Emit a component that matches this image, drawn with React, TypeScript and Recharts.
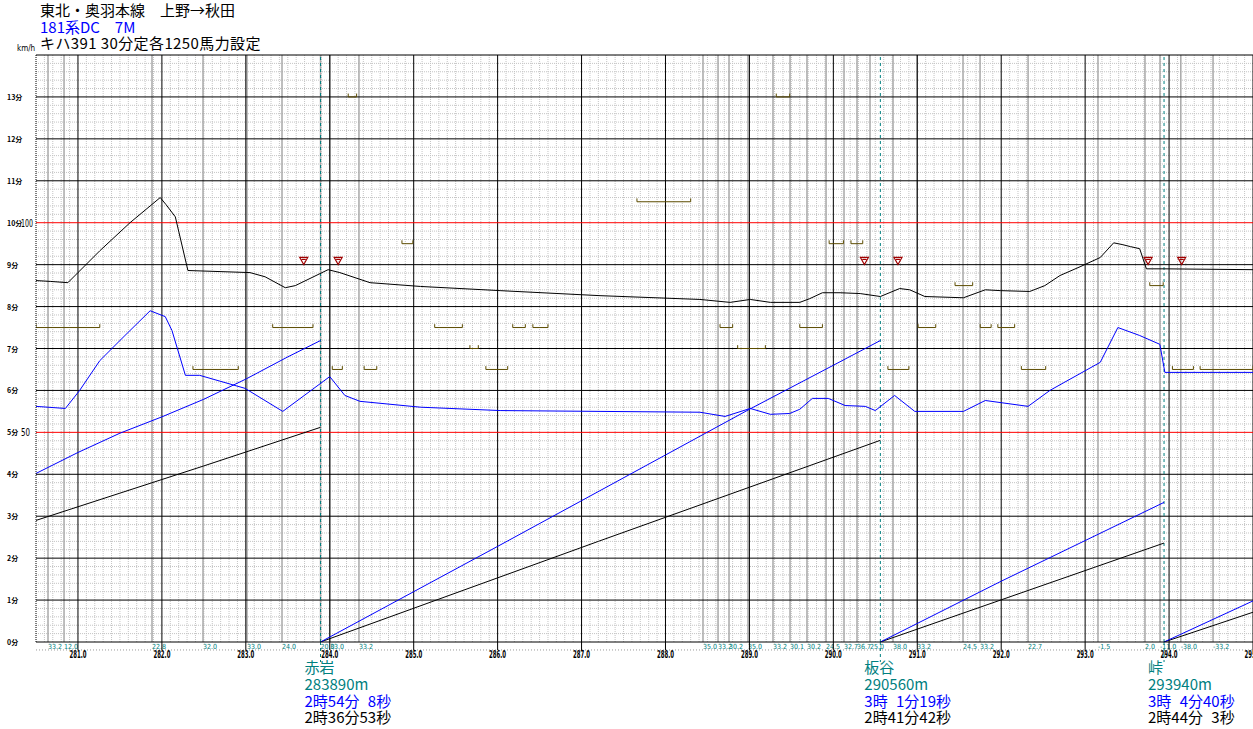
import { ComposedChart, Line, XAxis, YAxis, ReferenceLine, Scatter } from 'recharts';

// km posts and minute scale (1 minute = 10 km/h on the same axis)
const KM_TICKS = [281, 282, 283, 284, 285, 286, 287, 288, 289, 290, 291, 292, 293, 294, 295];
const MIN_TICKS = [0, 1, 2, 3, 4, 5, 6, 7, 8, 9, 10, 11, 12, 13];

// speed curve, black (km, km/h)
const SPD_A_KM = [280.50, 280.67, 280.88, 281.00, 281.26, 281.62, 281.86, 281.98, 282.05, 282.16, 282.31, 283.05, 283.23, 283.47, 283.59, 283.98, 284.12, 284.48, 285.08, 286.03, 287.22, 288.41, 288.77, 289.01, 289.25, 289.60, 289.72, 289.87, 290.08, 290.32, 290.56, 290.79, 290.91, 291.09, 291.55, 291.81, 291.99, 292.34, 292.52, 292.70, 292.94, 293.18, 293.34, 293.44, 293.54, 293.65, 293.73, 293.95, 295.00];
const SPD_A = [86.2, 86.0, 85.7, 88.1, 93.3, 100.0, 104.0, 106.0, 104.3, 101.4, 88.6, 88.1, 87.1, 84.5, 85.0, 88.8, 88.1, 85.7, 84.8, 83.8, 82.6, 81.7, 81.0, 81.7, 81.0, 81.0, 81.9, 83.3, 83.3, 83.1, 82.4, 84.3, 84.0, 82.4, 82.1, 84.0, 83.8, 83.6, 85.0, 87.4, 89.5, 91.7, 95.2, 94.8, 94.3, 93.8, 89.0, 89.0, 88.8];

// speed curve, blue (km, km/h)
const SPD_B_KM = [280.50, 280.85, 281.02, 281.26, 281.56, 281.86, 282.04, 282.12, 282.28, 282.45, 282.99, 283.44, 284.00, 284.18, 284.36, 285.08, 286.03, 287.22, 288.41, 288.71, 289.01, 289.25, 289.48, 289.60, 289.75, 289.94, 290.14, 290.38, 290.50, 290.73, 290.97, 291.55, 291.81, 292.32, 292.58, 293.18, 293.39, 293.65, 293.89, 293.95, 295.00];
const SPD_B = [56.2, 55.7, 60.0, 67.1, 73.1, 79.0, 77.6, 74.3, 63.6, 63.6, 60.5, 55.0, 63.3, 58.8, 57.4, 56.0, 55.2, 55.0, 54.8, 53.8, 55.7, 54.3, 54.5, 55.5, 58.1, 58.1, 56.4, 56.2, 55.2, 58.8, 55.0, 55.0, 57.6, 56.2, 60.0, 66.7, 75.0, 73.1, 71.0, 64.3, 64.3];

// running time since last station, minutes ([km, min])
const RUN_B: [number, number][][] = [
  [[280.5, 4.02], [281.0, 4.52], [281.5, 4.98], [282.0, 5.37], [282.5, 5.79], [283.0, 6.27], [283.5, 6.8], [283.89, 7.19]],
  [[283.89, 0], [285, 1.2], [286, 2.28], [287, 3.37], [288, 4.46], [289, 5.55], [290, 6.6], [290.56, 7.19]],
  [[290.56, 0], [292.0, 1.45], [293.94, 3.33]],
  [[293.94, 0], [295.0, 0.98]],
];
const RUN_A: [number, number][][] = [
  [[280.5, 2.9], [281.5, 3.55], [282.5, 4.2], [283.89, 5.12]],
  [[283.89, 0], [287.2, 2.4], [290.56, 4.81]],
  [[290.56, 0], [293.94, 2.36]],
  [[293.94, 0], [295.0, 0.71]],
];

// gradient change points
const GRADE_KM = [280.643, 280.834, 281.882, 282.490, 283.014, 283.431, 283.890, 284.003, 284.348, 288.447, 288.626, 288.757, 288.983, 289.281, 289.484, 289.686, 289.913, 290.127, 290.282, 290.437, 290.711, 290.997, 291.545, 291.748, 292.320, 293.153, 293.713, 293.892, 294.140, 294.524];
const GRADE_LABEL = ['33.2', '12.0', '22.8', '32.0', '33.0', '24.0', '20.0', '33.0', '33.2', '35.0', '33.2', '30.2', '35.0', '33.2', '30.1', '30.2', '24.5', '32.7', '36.7', '25.0', '38.0', '33.2', '24.5', '33.2', '22.7', '-1.5', '2.0', '-11.0', '-38.0', '-33.2'];

// speed limit sections
const LIMIT_FROM = [280.50, 287.66, 284.86, 283.32, 282.37, 285.25, 286.18, 286.42, 285.86, 284.03, 284.41, 288.65, 289.60, 289.95, 290.21, 290.65, 291.01, 291.45, 291.75, 291.96, 292.24, 293.77, 294.04, 294.37, 284.22, 289.32, 285.67, 288.86];
const LIMIT_TO = [281.26, 288.30, 284.99, 283.80, 282.91, 285.58, 286.33, 286.60, 286.12, 284.15, 284.56, 288.80, 289.87, 290.12, 290.35, 290.90, 291.22, 291.66, 291.88, 292.16, 292.53, 293.93, 294.29, 295.00, 284.32, 289.48, 285.77, 289.19];
const LIMIT_KMH = [75, 105, 95, 75, 65, 75, 75, 75, 65, 65, 65, 75, 75, 95, 95, 65, 75, 85, 75, 75, 65, 85, 65, 65, 130, 130, 70, 70];

// signal marks
const SIGNAL_KM = [283.69, 284.10, 290.37, 290.77, 293.75, 294.15];
const SIGNAL_KMH = [91, 91, 91, 91, 91, 91];

// stations
const STA_KM = [283.89, 290.56, 293.94];
const STA_NAME = ['赤岩', '板谷', '峠'];
const STA_POS = ['283890m', '290560m', '293940m'];
const STA_TIME_B = ['2時54分\u20078秒', '3時\u20071分19秒', '3時\u20074分40秒'];
const STA_TIME_A = ['2時36分53秒', '2時41分42秒', '2時44分\u20073秒'];

const JP = "'Noto Sans CJK JP', sans-serif";
const NUM = "'DejaVu Sans Condensed', 'DejaVu Sans', sans-serif";
const TEAL = '#008080';
const OLIVE = '#5c4c00';

const pts = (km: number[], v: number[]) => km.map((x, i) => ({ x, y: v[i] / 10 }));
const speedA = pts(SPD_A_KM, SPD_A);
const speedB = pts(SPD_B_KM, SPD_B);

const minorKm: number[] = [];
for (let i = 1; i < 145; i++) {
  const v = Math.round((280.5 + i * 0.1) * 10) / 10;
  if (v % 1 !== 0) minorKm.push(v);
}
const minorMin: number[] = [];
for (let i = 1; i < 70; i++) {
  const v = Math.round(i * 2) / 10;
  if (v % 1 !== 0) minorMin.push(v);
}

const brackets = LIMIT_FROM.map((a, i) => {
  const y = LIMIT_KMH[i] / 10;
  return [
    { x: a, y: y + 0.08 },
    { x: a, y },
    { x: LIMIT_TO[i], y },
    { x: LIMIT_TO[i], y: y + 0.08 },
  ];
});

const MinTick = ({ y, payload }: any) => {
  const v = payload.value;
  return (
    <g>
      <text x={7} y={y + 3} fontSize={7} fontWeight="bold" fontFamily={JP} fill="#000">{v}分</text>
      {v === 5 || v === 10 ? (
        <text x={21} y={y + 4} fontSize={11} fontFamily={NUM} textLength={v === 10 ? 12 : 9} lengthAdjust="spacingAndGlyphs" fill="#000">{v * 10}</text>
      ) : null}
    </g>
  );
};

const KmLabel = ({ x, y, payload }: any) => (
  <text x={x} y={y + 8} textAnchor="middle" fontSize={10} fontWeight="bold" fontFamily={NUM} textLength={17} lengthAdjust="spacingAndGlyphs" fill="#000">
    {Number(payload.value).toFixed(1)}
  </text>
);

const GradeLabel = (text: string) => (p: any) => {
  const vb = p.viewBox;
  return (
    <text x={vb.x} y={vb.y + vb.height + 6.5} fontSize={7} fontFamily={NUM} fill={TEAL}>{text}</text>
  );
};

const StationLabel = (i: number) => (p: any) => {
  const vb = p.viewBox;
  const bottom = vb.y + vb.height;
  const left = Math.min(vb.x - 16, 1157);
  return (
    <g fontFamily={JP} fontSize={15}>
      <line x1={vb.x} x2={vb.x} y1={bottom} y2={bottom + 20} stroke={TEAL} strokeDasharray="3 3" />
      <text x={left} y={bottom + 31} fill={TEAL}>{STA_NAME[i]}</text>
      <text x={left} y={bottom + 48} fill={TEAL}>{STA_POS[i]}</text>
      <text x={left} y={bottom + 65} fill="#0000ff">{STA_TIME_B[i]}</text>
      <text x={left} y={bottom + 81} fill="#000">{STA_TIME_A[i]}</text>
    </g>
  );
};

const Tri = ({ cx, cy }: any) => (
  <path d={`M${cx - 4},${cy - 3} L${cx + 4},${cy - 3} L${cx},${cy + 4} Z M${cx - 2},${cy - 1} L${cx + 2},${cy - 1}`} fill="none" stroke="#a00000" strokeWidth={1.2} />
);

export default function App() {
  return (
    <div style={{ position: 'absolute', left: 0, top: 0, width: 1253, height: 729, background: '#fff', overflow: 'hidden' }}>
      <div style={{ position: 'absolute', left: 40, top: 2, fontFamily: JP, fontSize: 15, lineHeight: '16.5px', whiteSpace: 'pre' }}>
        <div style={{ color: '#000' }}>東北・奥羽本線　上野→秋田</div>
        <div style={{ color: '#0000ff' }}>181系DC　7M</div>
        <div style={{ color: '#000', letterSpacing: 0.4 }}>キハ391 30分定各1250馬力設定</div>
      </div>
      <div style={{ position: 'absolute', left: 17, top: 44, fontFamily: NUM, fontSize: 8 }}>km/h</div>
      <div style={{ position: 'absolute', left: 0, top: 0 }}>
        <ComposedChart width={1253} height={729} margin={{ top: 55, right: 0, bottom: 0, left: 0 }}>
          <XAxis
            dataKey="x"
            type="number"
            domain={[280.5, 295]}
            allowDataOverflow
            ticks={KM_TICKS}
            interval={0}
            height={87}
            tickSize={8}
            tickMargin={0}
            axisLine={{ stroke: '#000' }}
            tickLine={{ stroke: '#000' }}
            tick={KmLabel}
          />
          <YAxis
            type="number"
            domain={[0, 14]}
            allowDataOverflow
            ticks={MIN_TICKS}
            interval={0}
            width={36}
            axisLine={{ stroke: '#000', strokeDasharray: '1 1' }}
            tickLine={false}
            tick={MinTick}
          />

          {minorKm.map((v) => (
            <ReferenceLine key={'vk' + v} x={v} stroke="#c4c4c4" strokeDasharray="1 1" />
          ))}
          {minorMin.map((v) => (
            <ReferenceLine key={'hm' + v} y={v} stroke="#c4c4c4" strokeDasharray="1 1" />
          ))}
          <ReferenceLine y={-0.19} ifOverflow="visible" stroke="#999" strokeDasharray="1 2" />
          {GRADE_KM.map((v, i) => (
            <ReferenceLine key={'g' + i} x={v} stroke="#a8a8a8" strokeWidth={1.5} label={GradeLabel(GRADE_LABEL[i])} />
          ))}
          {KM_TICKS.map((v) => (
            <ReferenceLine key={'k' + v} x={v} stroke="#000" />
          ))}
          {MIN_TICKS.concat([14]).filter((v) => v > 0).map((v) => (
            <ReferenceLine key={'m' + v} y={v} stroke={v === 5 || v === 10 ? '#ff0000' : '#000'} />
          ))}
          {STA_KM.map((v, i) => (
            <ReferenceLine key={'s' + i} x={v} stroke={TEAL} strokeDasharray="3 3" label={StationLabel(i)} />
          ))}

          {brackets.map((b, i) => (
            <Line key={'b' + i} data={b} dataKey="y" type="linear" stroke={OLIVE} strokeWidth={1} dot={false} isAnimationActive={false} />
          ))}

          {RUN_A.map((seg, i) => (
            <Line key={'ra' + i} data={seg.map(([x, y]) => ({ x, y }))} dataKey="y" type="linear" stroke="#000" strokeWidth={1} dot={false} isAnimationActive={false} />
          ))}
          {RUN_B.map((seg, i) => (
            <Line key={'rb' + i} data={seg.map(([x, y]) => ({ x, y }))} dataKey="y" type="linear" stroke="#0000ff" strokeWidth={1} dot={false} isAnimationActive={false} />
          ))}

          <Line data={speedB} dataKey="y" type="linear" stroke="#0000ff" strokeWidth={1} dot={false} isAnimationActive={false} />
          <Line data={speedA} dataKey="y" type="linear" stroke="#000" strokeWidth={1} dot={false} isAnimationActive={false} />

          <Scatter data={SIGNAL_KM.map((x, i) => ({ x, y: SIGNAL_KMH[i] / 10 }))} dataKey="y" shape={Tri} isAnimationActive={false} />
        </ComposedChart>
      </div>
    </div>
  );
}
